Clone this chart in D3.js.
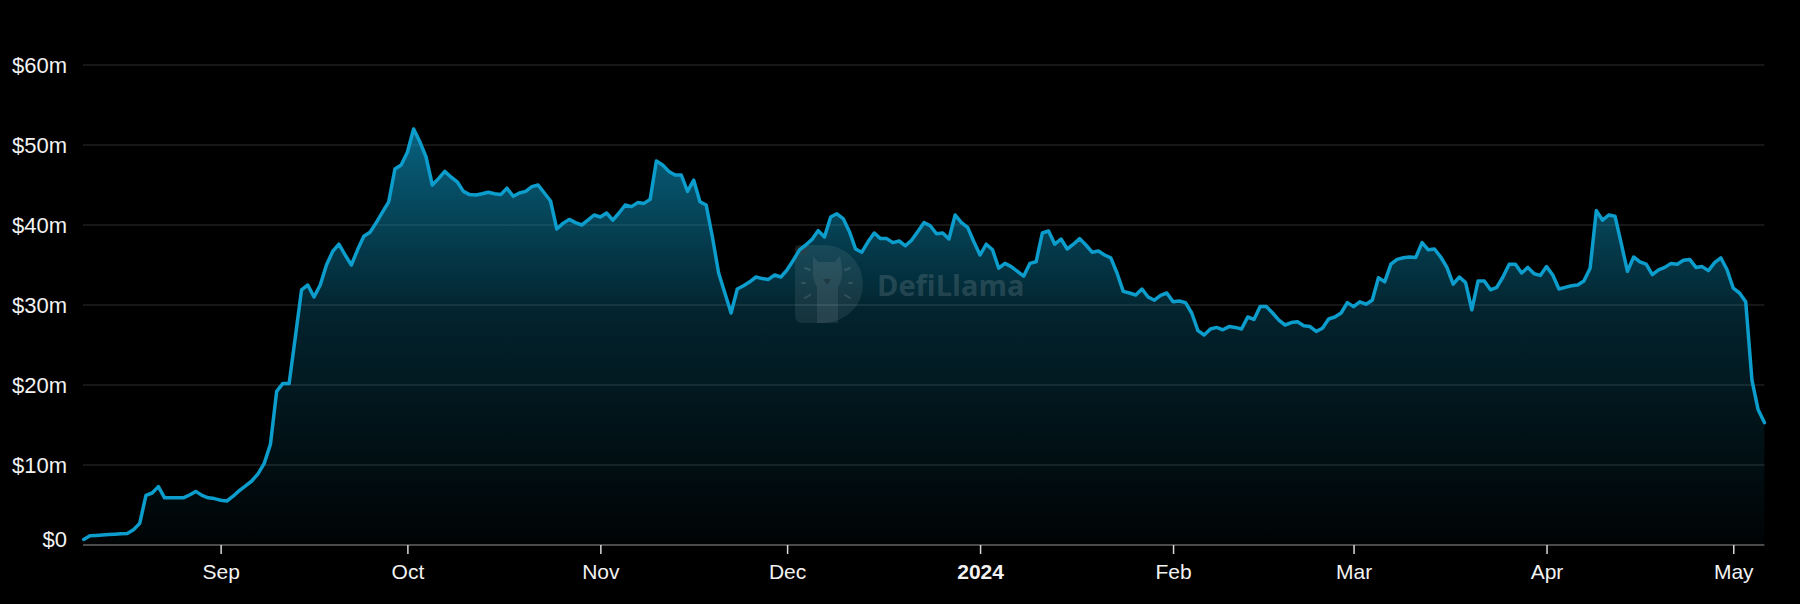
<!DOCTYPE html>
<html>
<head>
<meta charset="utf-8">
<script src="https://cdn.jsdelivr.net/npm/d3@7"></script>
<style>
	html, body { margin: 0; background: #000; }
	svg { display: block; }
	text { font-family: "Liberation Sans", Arial, Helvetica, sans-serif; }
</style>
</head>
<body>
<svg id="chart" width="1800" height="604"></svg>
<script>
// daily TVL in $m, first point is 2023-08-10
const startDate = '2023-08-10';
const aug2023 = [0.7, 1.15, 1.2, 1.25, 1.3, 1.35, 1.4, 1.45, 1.9, 2.7, 6.2, 6.5, 7.3, 5.9, 5.9, 5.9, 5.9, 6.25, 6.7, 6.2, 5.9, 5.8];
const sep2023 = [5.6, 5.5, 6.1, 6.8, 7.4, 8.0, 8.9, 10.2, 12.6, 19.2, 20.2, 20.2, 26.0, 31.9, 32.5, 31.0, 32.5, 35.0, 36.7, 37.6, 36.25, 35.0, 36.9, 38.6, 39.1, 40.3, 41.6, 42.9, 47.0, 47.5];
const oct2023 = [49.1, 52.0, 50.4, 48.5, 45.0, 45.8, 46.7, 46.0, 45.4, 44.2, 43.8, 43.75, 43.9, 44.1, 43.9, 43.8, 44.6, 43.6, 44.0, 44.2, 44.8, 45.0, 44.0, 43.0, 39.5, 40.2, 40.7, 40.3, 40.0, 40.6, 41.25];
const nov2023 = [41.0, 41.5, 40.6, 41.5, 42.5, 42.3, 42.8, 42.7, 43.2, 48.0, 47.5, 46.7, 46.25, 46.25, 44.2, 45.6, 42.9, 42.5, 38.5, 34.0, 31.5, 29.0, 32.0, 32.4, 32.9, 33.5, 33.3, 33.2, 33.75, 33.5];
const dec2023 = [34.4, 35.6, 36.9, 37.5, 38.2, 39.3, 38.5, 41.0, 41.4, 40.8, 39.2, 37.0, 36.6, 37.9, 39.0, 38.3, 38.3, 37.8, 38.0, 37.4, 38.1, 39.2, 40.3, 39.9, 38.9, 39.0, 38.25, 41.25, 40.3, 39.7, 37.9];
const jan2024 = [36.25, 37.6, 36.9, 34.6, 35.2, 34.8, 34.2, 33.6, 35.2, 35.4, 39.0, 39.25, 37.6, 38.25, 37.0, 37.6, 38.3, 37.5, 36.6, 36.75, 36.25, 35.9, 34.0, 31.7, 31.5, 31.25, 32.0, 31.0, 30.6, 31.2, 31.5];
const feb2024 = [30.4, 30.5, 30.3, 29.0, 26.8, 26.25, 27.0, 27.2, 26.9, 27.3, 27.2, 27.0, 28.5, 28.2, 29.8, 29.8, 29.0, 28.1, 27.5, 27.8, 27.9, 27.4, 27.3, 26.7, 27.1, 28.25, 28.5, 29.0, 30.3];
const mar2024 = [29.8, 30.4, 30.1, 30.6, 33.4, 32.9, 35.1, 35.7, 35.9, 36.0, 35.95, 37.8, 36.9, 37.0, 36.0, 34.7, 32.6, 33.5, 32.8, 29.4, 33.0, 33.0, 31.9, 32.2, 33.5, 35.1, 35.1, 34.0, 34.7, 33.9, 33.7];
const apr2024 = [34.8, 33.75, 32.0, 32.2, 32.4, 32.5, 33.0, 34.6, 41.8, 40.6, 41.25, 41.1, 37.7, 34.2, 36.0, 35.4, 35.1, 33.8, 34.4, 34.7, 35.2, 35.1, 35.6, 35.7, 34.7, 34.8, 34.3, 35.3, 35.9, 34.4];
const may2024 = [32.1, 31.5, 30.4, 20.6, 16.9, 15.3];

const yTicks = [0, 10, 20, 30, 40, 50, 60];
const monthTicks = ['2023-09-01', '2023-10-01', '2023-11-01', '2023-12-01', '2024-01-01', '2024-02-01', '2024-03-01', '2024-04-01', '2024-05-01'];
const monthLabels = ['Sep', 'Oct', 'Nov', 'Dec', '2024', 'Feb', 'Mar', 'Apr', 'May'];

const lineColor = '#0c9dcc';
const plot = { left: 83.7, right: 1764.4, top: 65, bottom: 545 };

const start = new Date(startDate + 'T00:00:00Z');
const values = [].concat(aug2023, sep2023, oct2023, nov2023, dec2023, jan2024, feb2024, mar2024, apr2024, may2024);
const data = values.map((v, i) => ({ date: d3.utcDay.offset(start, i), value: v }));

const svg = d3.select('#chart');

const x = d3.scaleUtc()
	.domain(d3.extent(data, d => d.date))
	.range([plot.left, plot.right]);

const y = d3.scaleLinear()
	.domain([0, 60])
	.range([plot.bottom, plot.top]);

const fmtY = v => v === 0 ? '$0' : `$${v}m`;

// horizontal split lines
svg.append('g')
	.attr('class', 'grid')
	.selectAll('line')
	.data(yTicks.filter(v => v > 0))
	.join('line')
		.attr('x1', 83)
		.attr('x2', plot.right)
		.attr('y1', d => y(d))
		.attr('y2', d => y(d))
		.style('stroke', '#1f1f1f')
		.style('stroke-width', '1.5px');

// area gradient, from top of the series down to the axis
const defs = svg.append('defs');
const grad = defs.append('linearGradient')
	.attr('id', 'tvl-fill')
	.attr('gradientUnits', 'userSpaceOnUse')
	.attr('x1', 0).attr('x2', 0)
	.attr('y1', y(d3.max(values)))
	.attr('y2', y(0));
grad.append('stop').attr('offset', 0).attr('stop-color', lineColor).attr('stop-opacity', 0.62);
grad.append('stop').attr('offset', 0.45).attr('stop-color', lineColor).attr('stop-opacity', 0.22);
grad.append('stop').attr('offset', 1).attr('stop-color', lineColor).attr('stop-opacity', 0.02);

const area = d3.area()
	.x(d => x(d.date))
	.y0(y(0))
	.y1(d => y(d.value));

svg.append('path')
	.datum(data)
	.attr('d', area)
	.style('fill', 'url(#tvl-fill)');

// watermark
const wm = svg.append('g')
	.attr('class', 'watermark')
	.style('pointer-events', 'none');

wm.append('path')
	.attr('d', 'M803,245H824A39,39 0 0 1 824,323H803Q795,323 795,315V253Q795,245 803,245Z')
	.style('fill', 'rgba(255,255,255,0.08)');
wm.append('rect')
	.attr('x', 795).attr('y', 245).attr('width', 12).attr('height', 9).attr('rx', 3)
	.style('fill', 'rgba(60,60,60,0.35)');
wm.append('path')
	.attr('d', 'M813,256L818,262L835,262L840,256L842,268Q843,280 838,287L838,323L817,323L817,287Q812,280 813,268Z')
	.style('fill', 'rgba(255,255,255,0.08)');
wm.append('path')
	.attr('d', 'M823,279L831,279L827,285Z')
	.style('fill', 'rgba(0,0,0,0.25)');
[[805, 268, 810, 270], [802, 283, 805, 283], [805, 298, 810, 295], [845, 270, 850, 268], [849, 283, 852, 283], [845, 295, 850, 298]]
	.forEach(t => {
		wm.append('line')
			.attr('x1', t[0]).attr('y1', t[1]).attr('x2', t[2]).attr('y2', t[3])
			.style('stroke', 'rgba(255,255,255,0.12)')
			.style('stroke-width', '2px')
			.style('stroke-linecap', 'round');
	});
wm.append('text')
	.attr('x', 877)
	.attr('y', 296)
	.style('font-family', '"Open Sans", sans-serif')
	.style('font-weight', 700)
	.style('font-size', '29px')
	.style('fill', 'rgba(255,255,255,0.15)')
	.text('DefiLlama');

// the series line
const line = d3.line()
	.x(d => x(d.date))
	.y(d => y(d.value));

svg.append('path')
	.datum(data)
	.attr('d', line)
	.style('fill', 'none')
	.style('stroke', lineColor)
	.style('stroke-width', '3.5px')
	.style('stroke-linejoin', 'round')
	.style('stroke-linecap', 'round');

// y axis labels
const yAxis = svg.append('g')
	.attr('transform', 'translate(83,0)')
	.call(d3.axisLeft(y).tickValues(yTicks).tickSize(0).tickPadding(16).tickFormat(fmtY));
yAxis.select('.domain').remove();
yAxis.selectAll('text')
	.attr('dy', d => d === 0 ? '0.07em' : '0.35em')
	.style('font-family', '"Liberation Sans", Arial, sans-serif')
	.style('font-size', '22px')
	.style('fill', '#f2f2f2');

// x axis line
svg.append('line')
	.attr('x1', 83)
	.attr('x2', plot.right)
	.attr('y1', y(0))
	.attr('y2', y(0))
	.style('stroke', '#4a4a4a')
	.style('stroke-width', '2px');

const xAxis = svg.append('g')
	.attr('transform', `translate(0,${y(0)})`)
	.call(d3.axisBottom(x)
		.tickValues(monthTicks.map(s => new Date(s + 'T00:00:00Z')))
		.tickSize(9)
		.tickPadding(10)
		.tickFormat((d, i) => monthLabels[i]));
xAxis.select('.domain').remove();
xAxis.selectAll('.tick line')
	.style('stroke', '#d9d9d9')
	.style('stroke-width', '1.5px');
xAxis.selectAll('text')
	.style('font-family', '"Liberation Sans", Arial, sans-serif')
	.style('font-size', '21px')
	.style('font-weight', (d, i) => monthLabels[i] === '2024' ? 700 : 400)
	.style('fill', '#f2f2f2');
</script>
</body>
</html>
